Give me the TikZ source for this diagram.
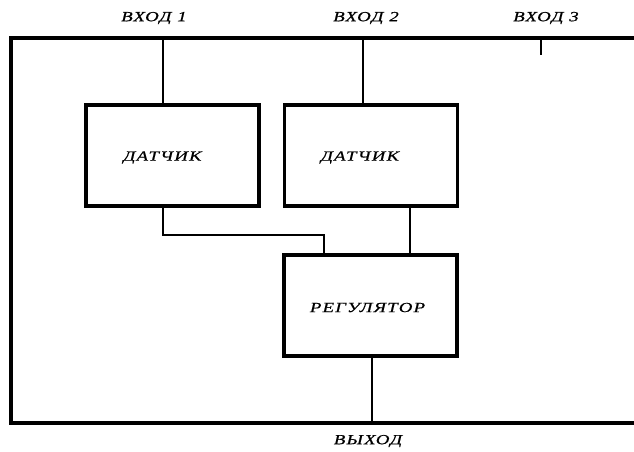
\documentclass[tikz,border=0pt]{standalone}
\usepackage{fontspec}
\setmainfont{Liberation Serif}
\usetikzlibrary{positioning,calc}

\begin{document}
\begin{tikzpicture}[
    x=1pt,y=-1pt,
    every node/.style = {font=\fontsize{14}{16}\selectfont\itshape\addfontfeature{FakeStretch=1.35,LetterSpace=8,FakeBold=0.6}},
    block/.style = {rectangle,draw,line width=3.2pt,minimum width=173pt,minimum height=101pt,inner sep=0pt},
    wire/.style = {line width=1.4pt},
    ]
    \useasboundingbox (0,0) rectangle (634,452);
    % frame of the plant, open past the right edge
    \draw[line width=3.2pt] (634,38) -- (11,38) -- (11,423) -- (634,423);
    \node[block] (sensor-1) at (172.5,155.5) {};
    \node[block] (sensor-2) at (371,155.5) {};
    \node[block] (regulator) at (370.5,305.5) {};
    \node at ([xshift=-10pt,yshift=-2pt]sensor-1.center) {ДАТЧИК};
    \node at ([xshift=-11pt,yshift=-2pt]sensor-2.center) {ДАТЧИК};
    \node at ([xshift=-3pt,yshift=-2pt]regulator.center) {РЕГУЛЯТОР};
    % inputs and output on the frame
    \coordinate (in-1) at (163,38);
    \coordinate (in-2) at (363,38);
    \coordinate (in-3) at (541,38);
    \coordinate (out) at (372,423);
    \node (label-in-1) at (154,18) {ВХОД 1};
    \node (label-in-2) at (366,18) {ВХОД 2};
    \node (label-in-3) at (546,18) {ВХОД 3};
    \node (label-out) at (368,441) {ВЫХОД};
    \coordinate (bend) at (163,235);
    \draw[wire]
    (in-1) -- (in-1 |- sensor-1.north)
    (in-2) -- (in-2 |- sensor-2.north)
    (in-3) -- ++(0,17)
    (bend |- sensor-1.south) -- (bend) -| (324,0 |- regulator.north)
    (410,0 |- sensor-2.south) -- (410,0 |- regulator.north)
    (out |- regulator.south) -- (out)
    ;
\end{tikzpicture}
\end{document}
